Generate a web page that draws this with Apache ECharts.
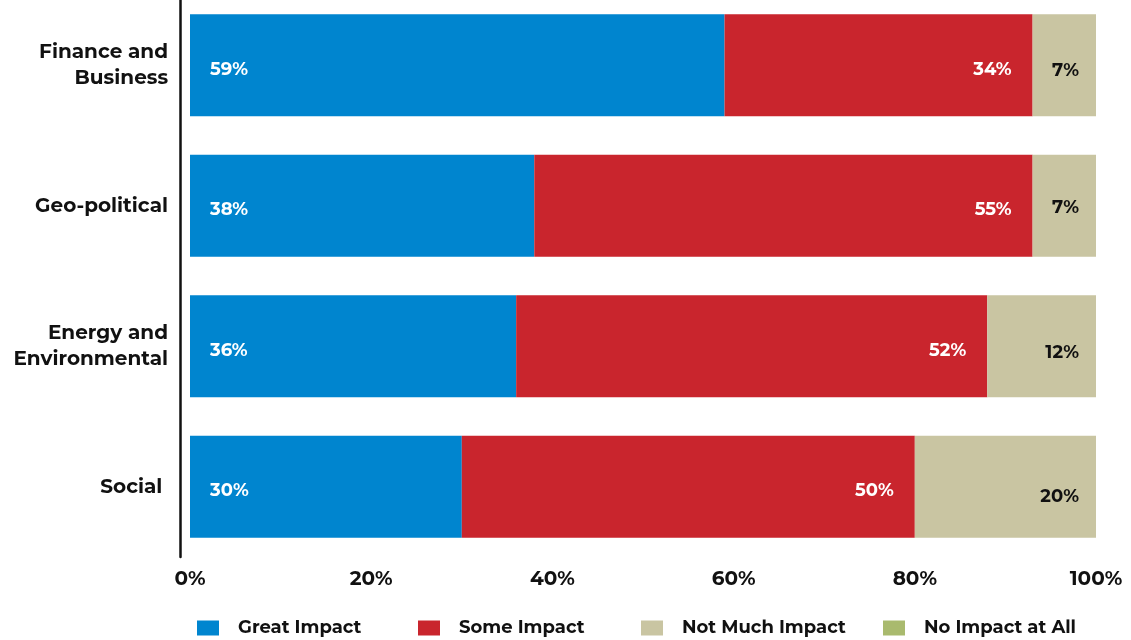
<!DOCTYPE html>
<html>
<head>
<meta charset="utf-8">
<script src="https://cdn.jsdelivr.net/npm/echarts@6/dist/echarts.min.js"></script>
<style>
  html, body { margin: 0; padding: 0; background: #fff; }
  #mychart { width: 1131px; height: 640px; }
</style>
</head>
<body>
<div id="mychart"></div>
<script>
// 类目（从上到下）
var categories = ['Finance and\nBusiness', 'Geo-political', 'Energy and\nEnvironmental', 'Social '];
var seriesNames = ['Great Impact', 'Some Impact', 'Not Much Impact', 'No Impact at All'];
var greatImpact = [59, 38, 36, 30];
var someImpact = [34, 55, 52, 50];
var notMuchImpact = [7, 7, 12, 20];
var noImpact = [0, 0, 0, 0];
var xTicks = [0, 20, 40, 60, 80, 100];

var colors = ['#0085cf', '#c9252d', '#c9c5a2', '#a9ba6e'];
var font = 'Montserrat, "Open Sans", Lato, sans-serif';

var myChart = echarts.init(document.getElementById('mychart'));

// 每个系列的标签样式
function makeLabel(pos, color, dist) {
    return {
        show: true,
        position: pos,
        distance: dist,
        offset: [0, 4],
        color: color,
        fontFamily: font,
        fontWeight: 'bold',
        fontSize: 18,
        formatter: function (p) { return p.value > 0 ? p.value + '%' : ''; }
    };
}

// 图例（分开摆放）
var legendLeft = [192, 413, 636, 878];
var legends = seriesNames.map(function (name, i) {
    return {
        data: [name],
        left: legendLeft[i],
        top: 614,
        itemWidth: 22,
        itemHeight: 15,
        itemGap: 0,
        icon: 'rect',
        selectedMode: false,
        textStyle: {
            color: '#111',
            fontFamily: font,
            fontWeight: 'bold',
            fontSize: 18,
            padding: [0, 0, 0, 14]
        }
    };
});

var seriesData = [greatImpact, someImpact, notMuchImpact, noImpact];
var labelPos = ['insideLeft', 'insideRight', 'insideRight', 'insideRight'];
var labelColor = ['#fff', '#fff', '#111', '#111'];
var labelDist = [20, 21, 17, 17];
// 浅色段标签的垂直偏移
var beigeShift = [5, 2, 6, 10];

var option = {
    backgroundColor: '#fff',
    animation: false,
    grid: {
        left: 190,
        right: 35,
        top: -5,
        bottom: 83,
        outerBoundsMode: 'none'
    },
    legend: legends,
    xAxis: {
        type: 'value',
        min: 0,
        max: 100,
        interval: 20,
        axisLine: { show: false },
        axisTick: { show: false },
        splitLine: { show: false },
        axisLabel: {
            margin: 12,
            color: '#111',
            fontFamily: font,
            fontWeight: 'bold',
            fontSize: 20,
            formatter: function (v) { return xTicks.indexOf(v) >= 0 ? v + '%' : ''; }
        }
    },
    yAxis: {
        type: 'category',
        inverse: true,
        data: categories,
        offset: 10,
        axisTick: { show: false },
        axisLine: {
            show: true,
            onZero: false,
            lineStyle: { color: '#111', width: 2.5 }
        },
        axisLabel: {
            margin: 12,
            color: '#111',
            fontFamily: font,
            fontWeight: 'bold',
            fontSize: 20,
            lineHeight: 26,
            padding: [6, 0, 0, 0],
            align: 'right'
        }
    },
    series: seriesNames.map(function (name, i) {
        return {
            name: name,
            type: 'bar',
            stack: 'total',
            barCategoryGap: '27.5%',
            itemStyle: { color: colors[i] },
            label: makeLabel(labelPos[i], labelColor[i], labelDist[i]),
            data: seriesData[i].map(function (v, j) {
                if (i === 2) return { value: v, label: { offset: [0, beigeShift[j]] } };
                return v;
            })
        };
    })
};

myChart.setOption(option);
</script>
</body>
</html>
